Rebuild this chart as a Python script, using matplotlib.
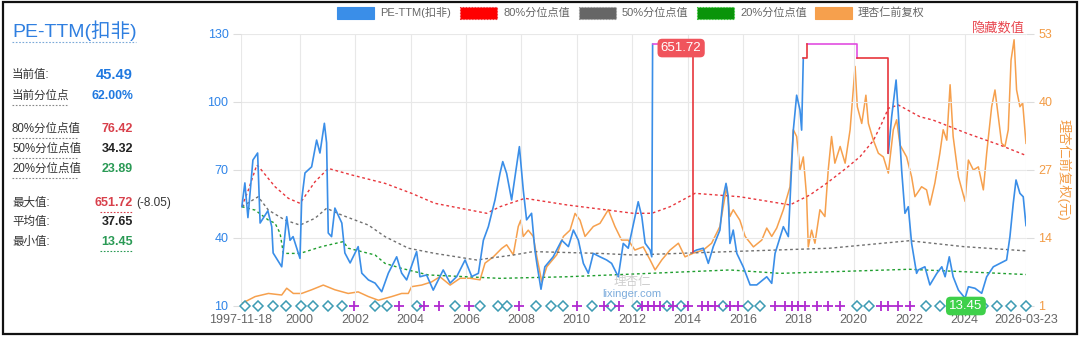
import matplotlib
matplotlib.use('Agg')
import matplotlib.pyplot as plt
import numpy as np
from matplotlib.patches import Rectangle
from matplotlib.lines import Line2D

FONT = ['Liberation Sans', 'Noto Sans CJK SC', 'DejaVu Sans']
plt.rcParams['font.family'] = FONT

# ---------------- data (dates as decimal years) ----------------
pe_t = [1997.91, 1998.02, 1998.13, 1998.31, 1998.48, 1998.57, 1998.85, 1998.99, 1999.04, 1999.35,
        1999.53, 1999.65, 1999.76, 2000.01, 2000.07, 2000.19, 2000.43, 2000.61, 2000.73, 2000.89,
        2000.97, 2001.03, 2001.15, 2001.27, 2001.52, 2001.63, 2001.82, 2002.11, 2002.24, 2002.48,
        2002.72, 2002.96, 2003.20, 2003.50, 2003.68, 2003.86, 2004.22, 2004.34, 2004.58, 2004.82,
        2005.18, 2005.43, 2005.67, 2005.97, 2006.21, 2006.45, 2006.63, 2006.81, 2007.05, 2007.23,
        2007.33, 2007.47, 2007.65, 2007.77, 2007.93, 2008.07, 2008.19, 2008.37, 2008.49, 2008.56,
        2008.71, 2008.85, 2009.15, 2009.46, 2009.70, 2009.88, 2010.06, 2010.24, 2010.42, 2010.60,
        2010.84, 2011.08, 2011.26, 2011.50, 2011.68, 2011.86, 2012.22, 2012.35, 2012.47, 2012.65,
        2012.71, 2012.74, 2013.50,
        2014.21, 2014.33, 2014.57, 2014.75, 2014.93, 2015.17, 2015.29, 2015.39, 2015.47, 2015.53,
        2015.65, 2015.78, 2016.01, 2016.26, 2016.50, 2016.86, 2017.04, 2017.16, 2017.46, 2017.64,
        2017.82, 2017.94, 2018.06, 2018.12, 2018.18, 2019.50,
        2021.25, 2021.37, 2021.53, 2021.61, 2021.73, 2021.85, 2021.97, 2022.09, 2022.27, 2022.33,
        2022.57, 2022.75, 2023.00, 2023.18, 2023.30, 2023.45, 2023.59, 2023.78, 2024.02, 2024.14,
        2024.38, 2024.62, 2024.80, 2025.04, 2025.28, 2025.52, 2025.64, 2025.76, 2025.86, 2026.00,
        2026.12, 2026.22]
pe_v = [53.8, 64.3, 49.0, 74.4, 77.5, 46.6, 52.0, 45.0, 33.4, 27.3,
        49.4, 39.0, 40.6, 31.0, 56.8, 68.7, 71.4, 83.2, 77.5, 90.6,
        82.0, 42.2, 40.6, 53.2, 46.6, 33.4, 29.0, 36.2, 24.5, 21.5,
        20.1, 16.3, 24.5, 31.7, 24.5, 21.5, 34.0, 22.9, 23.7, 17.0,
        25.9, 20.1, 23.0, 30.3, 23.0, 24.4, 39.0, 45.0, 56.8, 68.5,
        73.7, 68.5, 56.8, 67.0, 80.3, 61.2, 48.0, 50.9, 34.7, 28.8,
        17.4, 27.3, 31.7, 39.0, 36.2, 43.5, 39.0, 28.8, 24.4, 33.2,
        31.7, 30.3, 28.8, 22.9, 37.6, 35.5, 56.0, 49.4, 37.7, 34.7,
        31.7, 125.5, np.nan,
        34.0, 34.7, 35.5, 28.8, 36.2, 43.5, 58.2, 64.1, 58.2, 37.6,
        43.5, 33.2, 27.3, 19.3, 19.3, 22.9, 20.0, 33.2, 45.0, 40.6,
        87.6, 103.0, 96.5, 87.6, 119.3, np.nan,
        77.4, 93.5, 109.7, 95.0, 70.0, 50.9, 53.8, 37.7, 24.4, 25.9,
        27.3, 19.3, 24.4, 27.3, 22.9, 31.7, 22.9, 17.0, 13.45, 18.5,
        17.8, 15.6, 22.9, 27.3, 28.8, 30.3, 40.6, 55.3, 65.6, 59.7,
        58.2, 45.49]

# hidden (out-of-range) segments shown at the top of the axis
hidden_top_t = [[2012.74, 2014.21], [2018.30, 2020.11, 2020.11]]
hidden_top_v = [[125.5, 125.5], [125.5, 125.5, 119.3]]
hidden_red_t = [[2014.21, 2014.21], [2018.18, 2018.30, 2018.30], [2020.11, 2021.25, 2021.25]]
hidden_red_v = [[125.5, 34.0], [119.3, 119.3, 125.5], [119.3, 119.3, 77.4]]

price_t = [1997.91, 1998.39, 1998.87, 1999.35, 1999.53, 1999.77, 2000.07, 2000.43, 2000.85, 2001.27,
           2001.75, 2002.11, 2002.48, 2002.84, 2003.32, 2003.68, 2003.92, 2004.04, 2004.40, 2004.76,
           2005.06, 2005.43, 2005.79, 2006.15, 2006.51, 2006.69, 2006.99, 2007.29, 2007.47, 2007.71,
           2007.89, 2007.98, 2008.07, 2008.25, 2008.43, 2008.56, 2008.74, 2008.92, 2009.28, 2009.52,
           2009.76, 2009.94, 2010.12, 2010.30, 2010.60, 2010.84, 2011.14, 2011.38, 2011.62, 2011.86,
           2012.10, 2012.40, 2012.65, 2012.83, 2013.07, 2013.37, 2013.67, 2013.91, 2014.21, 2014.57,
           2014.87, 2015.17, 2015.41, 2015.53, 2015.65, 2015.89, 2016.08, 2016.38, 2016.68, 2016.86,
           2017.04, 2017.22, 2017.46, 2017.70, 2017.82, 2017.94, 2018.06, 2018.18, 2018.30, 2018.36,
           2018.48, 2018.60, 2018.78, 2018.96, 2019.08, 2019.20, 2019.32, 2019.51, 2019.69, 2019.87,
           2020.05, 2020.13, 2020.29, 2020.44, 2020.53, 2020.71, 2020.89, 2021.07, 2021.25, 2021.43,
           2021.55, 2021.67, 2021.91, 2022.09, 2022.21, 2022.45, 2022.63, 2022.75, 2022.93, 2023.11,
           2023.23, 2023.36, 2023.48, 2023.59, 2023.78, 2024.02, 2024.14, 2024.32, 2024.50, 2024.68,
           2024.80, 2024.98, 2025.10, 2025.22, 2025.34, 2025.46, 2025.58, 2025.68, 2025.79, 2025.88,
           2026.00, 2026.10, 2026.22]
price_v = [1.5, 2.8, 3.4, 3.1, 4.4, 3.4, 3.4, 4.1, 5.0, 4.1,
           3.4, 3.7, 2.8, 2.1, 2.8, 3.4, 3.4, 4.7, 5.0, 5.6,
           6.6, 5.0, 6.3, 6.3, 6.0, 9.2, 10.4, 12.0, 12.7, 10.8,
           16.2, 17.4, 14.3, 15.5, 14.3, 10.4, 5.6, 8.5, 10.8, 14.3,
           15.5, 18.7, 17.4, 14.3, 16.2, 16.8, 19.4, 16.2, 13.6, 13.6,
           11.7, 12.3, 9.8, 7.9, 9.8, 11.7, 13.0, 10.4, 11.1, 11.7,
           13.0, 16.2, 23.8, 18.1, 19.4, 17.4, 14.3, 12.3, 13.6, 15.9,
           14.3, 15.9, 19.4, 23.8, 34.7, 33.4, 27.0, 29.5, 21.9, 12.3,
           15.5, 13.0, 19.4, 18.1, 27.0, 33.4, 28.3, 31.5, 28.3, 34.7,
           46.8, 39.1, 35.9, 41.3, 35.9, 32.7, 30.2, 29.5, 26.4, 34.7,
           36.6, 31.8, 29.5, 25.7, 21.9, 23.8, 23.2, 20.3, 24.5, 30.2,
           34.7, 32.7, 43.3, 33.4, 25.7, 21.0, 28.9, 27.0, 27.6, 23.2,
           30.2, 39.1, 42.3, 37.2, 32.1, 31.5, 34.7, 48.0, 51.9, 42.3,
           39.1, 39.8, 32.1]

p80_t = [1997.91, 1998.14, 1998.45, 1998.57, 1999.11, 1999.59, 2000.01, 2000.55, 2001.03, 2001.88,
         2003.08, 2004.04, 2004.88, 2006.75, 2007.23, 2008.13, 2009.64, 2012.04, 2012.71, 2013.37,
         2014.27, 2015.89, 2017.70, 2018.42, 2019.02, 2019.75, 2020.23, 2020.71, 2021.01, 2021.25,
         2021.61, 2022.39, 2022.87, 2024.08, 2025.28, 2026.22]
p80_v = [53.8, 61.0, 72.2, 70.7, 62.6, 57.5, 55.3, 64.8, 70.7, 67.8,
         64.1, 59.7, 55.3, 50.9, 53.8, 57.5, 54.6, 50.9, 50.9, 53.8,
         59.7, 58.2, 54.6, 59.0, 64.1, 71.0, 75.9, 83.0, 90.5, 97.2,
         98.7, 93.5, 92.0, 86.2, 81.0, 76.42]

p50_t = [1997.91, 1998.50, 1998.87, 1999.47, 2000.01, 2000.55, 2000.97, 2001.52, 2002.48, 2003.08,
         2003.92, 2004.88, 2006.39, 2007.71, 2008.43, 2010.84, 2012.03, 2015.53, 2019.14, 2022.01,
         2023.96, 2026.22]
p50_v = [53.8, 58.2, 52.3, 47.9, 45.7, 48.7, 53.1, 50.1, 45.7, 40.6,
         35.5, 33.2, 30.3, 32.5, 34.0, 33.2, 32.5, 34.0, 35.5, 38.8,
         36.2, 34.32]

p20_t = [1997.91, 1998.39, 1998.87, 1999.11, 1999.29, 1999.41, 2000.01, 2000.79, 2001.57, 2001.75,
         2002.72, 2003.08, 2003.68, 2004.64, 2007.23, 2009.64, 2012.04, 2015.53, 2017.34, 2022.01,
         2026.22]
p20_v = [53.8, 52.3, 47.9, 46.5, 42.1, 33.2, 33.2, 36.2, 38.4, 35.5,
         32.5, 28.8, 26.6, 23.7, 22.2, 22.9, 24.1, 25.9, 24.4, 26.2,
         23.89]

event_diamond_t = [1998.02, 1998.50, 1999.02, 1999.50, 2000.05, 2000.49, 2001.01, 2001.52, 2002.72, 2003.16,
                   2004.24, 2005.61, 2006.51, 2007.15, 2007.47, 2008.53, 2009.07, 2009.52, 2010.56, 2011.24,
                   2012.17, 2013.25, 2013.75, 2015.29, 2016.19, 2016.62, 2020.11, 2020.56, 2022.61, 2023.11,
                   2024.66, 2025.16, 2025.68, 2026.22]
event_plus_t = [2001.97, 2003.58, 2004.49, 2005.04, 2006.12, 2007.93, 2010.00, 2011.00, 2011.54, 2012.36,
                2012.57, 2012.79, 2013.01, 2013.49, 2014.02, 2014.51, 2014.75, 2014.99, 2015.53, 2015.83,
                2017.16, 2017.52, 2017.76, 2018.00, 2018.24, 2018.69, 2019.08, 2019.51, 2020.97, 2021.22,
                2021.61, 2022.03]

x_ticks = [1997.88, 2000, 2002, 2004, 2006, 2008, 2010, 2012, 2014, 2016, 2018, 2020, 2022, 2024, 2026.22]
x_labels = ['1997-11-18', '2000', '2002', '2004', '2006', '2008', '2010', '2012', '2014', '2016',
            '2018', '2020', '2022', '2024', '2026-03-23']
left_ticks = [10, 40, 70, 100, 130]
right_ticks = [1, 14, 27, 40, 53]

max_val, max_t, max_chg = 651.72, 2013.77, '-8.05'
min_val, min_t = 13.45, 2024.05

stats_labels = ['当前值:', '当前分位点', '80%分位点值', '50%分位点值', '20%分位点值', '最大值:', '平均值:', '最小值:']
stats_values = ['45.49', '62.00%', '76.42', '34.32', '23.89', '651.72', '37.65', '13.45']

# ---------------- colors ----------------
C_BLUE = '#3a8ee8'
C_ORANGE = '#f6a04d'
C_RED = '#e8363c'
C_GRAY = '#707070'
C_GREEN = '#1f9e2f'
C_MAG = '#e14ee0'
C_TXT = '#333333'
C_GRID = '#e8e8e8'

W, H = 1080, 338
fig = plt.figure(figsize=(W / 100, H / 100), dpi=100)


def fx(x):
    return x / W


def fy(y):
    return 1 - y / H


# outer border
fig.patches.append(Rectangle((fx(3), fy(334)), fx(1077) - fx(3), fy(2) - fy(334),
                             transform=fig.transFigure, fill=False, ec='#111111', lw=1.6))

# ---------------- left panel ----------------
fig.text(fx(12), fy(31), 'PE-TTM(扣非)', color='#2f7fe0', fontsize=14, va='center', ha='left')
fig.lines.append(Line2D([fx(12), fx(136)], [fy(42), fy(42)], transform=fig.transFigure,
                        color='#7aa9d8', lw=0.8, ls=(0, (1.5, 1.5))))

rows_y = [75, 96, 129, 149, 169, 203, 222, 242]
val_colors = ['#1e78e0', '#1e78e0', '#d8404b', '#222222', '#2a9a55', '#d8404b', '#222222', '#2a9a55']
val_sizes = [10.5, 8.8, 9, 9, 9, 9, 9, 9]
underline_lab = [False, True, True, True, True, False, False, False]
underline_val = [False, False, False, False, False, True, False, True]
lab_w = [0, 55, 66, 66, 66, 0, 0, 0]
for lab, val, yy, vc, vs, ul, uv, lw_ in zip(stats_labels, stats_values, rows_y, val_colors, val_sizes,
                                           underline_lab, underline_val, lab_w):
    fig.text(fx(12), fy(yy), lab, color=C_TXT, fontsize=8.3, va='center', ha='left')
    fig.text(fx(133), fy(yy), val, color=vc, fontsize=vs, fontweight='bold', va='center', ha='right')
    if ul:
        fig.lines.append(Line2D([fx(12), fx(12 + lw_)], [fy(yy + 9), fy(yy + 9)], transform=fig.transFigure,
                                color='#888888', lw=0.8, ls=(0, (1.5, 1.5))))
    if uv:
        fig.lines.append(Line2D([fx(100), fx(133)], [fy(yy + 9), fy(yy + 9)], transform=fig.transFigure,
                                color=vc, lw=0.8, ls=(0, (1.5, 1.5))))
fig.text(fx(136), fy(203), '(' + max_chg + ')', color=C_TXT, fontsize=8.5, va='center', ha='left')

# ---------------- legend ----------------
legend_items = [('PE-TTM(扣非)', C_BLUE, None), ('80%分位点值', '#ff0000', C_RED),
                ('50%分位点值', '#666666', '#999999'), ('20%分位点值', '#0a940a', '#33cc33'),
                ('理杏仁前复权', C_ORANGE, None)]
legend_x = [337, 460, 579, 697, 815]
for (name, col, edge), lx in zip(legend_items, legend_x):
    r = Rectangle((fx(lx), fy(19)), fx(37), fy(7) - fy(19), transform=fig.transFigure,
                  fc=col, ec=(edge if edge else col), lw=0.8, ls=(':' if edge else '-'))
    fig.patches.append(r)
    fig.text(fx(lx + 43), fy(13), name, color='#666666', fontsize=8, va='center', ha='left')

# ---------------- main axes ----------------
x0, x1, y0, y1 = 241, 1026, 34, 306
ax = fig.add_axes([fx(x0), fy(y1), fx(x1) - fx(x0), fy(y0) - fy(y1)])
ax2 = ax.twinx()
ax.set_zorder(ax2.get_zorder() + 1)
ax.patch.set_visible(False)

ax.set_xlim(x_ticks[0], x_ticks[-1])
ax.set_ylim(10, 130)
ax2.set_ylim(1, 53)

for a in (ax, ax2):
    for s in a.spines.values():
        s.set_visible(False)

ax.set_xticks(x_ticks)
ax.set_xticklabels(x_labels)
ax.set_yticks(left_ticks)
ax.set_yticklabels([str(v) for v in left_ticks])
ax2.set_yticks(right_ticks)
ax2.set_yticklabels([str(v) for v in right_ticks])
ax.tick_params(axis='x', length=0, pad=6, labelsize=9, labelcolor='#666666')
ax.tick_params(axis='y', length=6, width=0.8, color='#dddddd', pad=3, labelsize=9, labelcolor='#2f84e8')
ax2.tick_params(axis='y', length=6, width=0.8, color='#dddddd', pad=3, labelsize=9, labelcolor='#f29b45')
ax.grid(True, color=C_GRID, lw=0.8)
ax.set_axisbelow(True)

# price on right axis
ax2.plot(price_t, price_v, color=C_ORANGE, lw=1.1, zorder=3)

# percentile lines
ax.plot(p80_t, p80_v, color=C_RED, lw=1.0, ls=(0, (2, 2)), zorder=2)
ax.plot(p50_t, p50_v, color=C_GRAY, lw=1.0, ls=(0, (2, 2)), zorder=2)
ax.plot(p20_t, p20_v, color=C_GREEN, lw=1.0, ls=(0, (2, 2)), zorder=2)

# PE line
ax.plot(pe_t, pe_v, color=C_BLUE, lw=1.2, zorder=4)
for tt, vv in zip(hidden_top_t, hidden_top_v):
    ax.plot(tt, vv, color=C_MAG, lw=1.2, zorder=4)
for tt, vv in zip(hidden_red_t, hidden_red_v):
    ax.plot(tt, vv, color=C_RED, lw=1.2, zorder=4)

# events on the baseline
ax.plot(event_diamond_t, [10] * len(event_diamond_t), ls='none', marker='D', ms=5,
        mfc='white', mec='#3d9bb3', mew=1.1, clip_on=False, zorder=6)
ax.plot(event_plus_t, [10] * len(event_plus_t), ls='none', marker='+', ms=7,
        mec='#b02ad0', mew=1.3, clip_on=False, zorder=6)

# max / min labels
ax.text(max_t, 123.8, f'{max_val:.2f}', color='white', fontsize=9.5, ha='center', va='center', zorder=8,
        bbox=dict(boxstyle='round,pad=0.25,rounding_size=0.35', fc='#f0545c', ec='none'))
ax.text(min_t, 10, f'{min_val:.2f}', color='white', fontsize=9.5, ha='center', va='center', zorder=8,
        clip_on=False, bbox=dict(boxstyle='round,pad=0.25,rounding_size=0.35', fc='#3ed04a', ec='none'))

# watermark
ax.text(2012.0, 15.5, 'lixinger.com', color='#6fa3d8', fontsize=8, ha='center', va='center', alpha=0.9, zorder=5)
ax.text(2012.0, 20.5, '理杏仁', color='#bbbbbb', fontsize=9, ha='center', va='center', alpha=0.7, zorder=5)

# right axis label and hidden-value note
fig.text(fx(1064), fy(170), '理杏仁前复权(元)', color='#f29b45', fontsize=9.5, rotation=270,
         ha='center', va='center')
fig.text(fx(1025), fy(28), '隐藏数值', color='#e8474f', fontsize=9.5, ha='right', va='center')

fig.savefig('out.png', dpi=100)
